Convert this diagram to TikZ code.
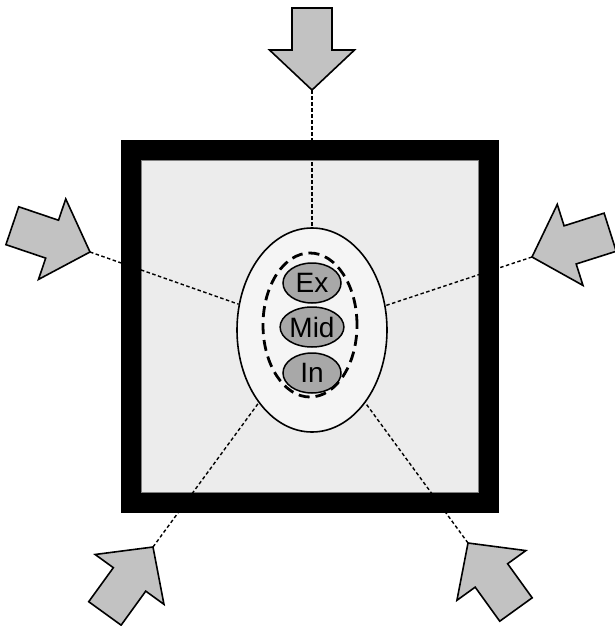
\documentclass[tikz,border=0pt]{standalone}
\usepackage{fontspec}
\setmainfont{Liberation Sans}
\usetikzlibrary{shapes.geometric}
\definecolor{arrowgray}{HTML}{C2C2C2}
\definecolor{roomgray}{HTML}{ECECEC}
\definecolor{layergray}{HTML}{A8A8A8}
\tikzset{
  frame/.style={draw=black, line width=20pt, fill=roomgray},
  outerell/.style={ellipse, draw=black, line width=1.6pt, fill=white!96!black, minimum width=150pt, minimum height=204pt, inner sep=0pt},
  dashell/.style={ellipse, draw=black, line width=2.8pt, dash pattern=on 11pt off 6pt, minimum width=94pt, minimum height=144pt, inner sep=0pt},
  layer/.style={ellipse, draw=black, line width=1.5pt, fill=layergray, minimum width=58pt, minimum height=40pt, inner sep=0pt, font=\fontsize{28}{28}\selectfont},
  conn/.style={draw=black, line width=1.4pt, dash pattern=on 3.5pt off 2.5pt},
  arrowshape/.style={draw=black, line width=1.6pt, fill=arrowgray, line join=miter},
  blockarrow/.pic={\path[arrowshape] (0,0) -- (-40,42.5) -- (-40,20) -- (-82,20) -- (-82,-20) -- (-40,-20) -- (-40,-42.5) -- cycle;}
}
\begin{document}
\begin{tikzpicture}[x=1pt,y=-1pt]
\useasboundingbox (0,0) rectangle (614,626);
% room
\path[frame] (131,150) rectangle (489,503);
\draw[gray, line width=0.8pt] (141.5,160.5) rectangle (478.5,492.5);
% arrow tips
\coordinate (tTop) at (312,90);
\coordinate (tLeft) at (90,252);
\coordinate (tRight) at (532,257);
\coordinate (tBL) at (153,547);
\coordinate (tBR) at (468,543);
% central ellipse
\node[outerell] (outer) at (312,330) {};
% connectors
\draw[conn] (tTop) -- (outer);
\draw[conn] (tLeft) -- (outer);
\draw[conn] (tRight) -- (outer);
\draw[conn] (tBL) -- (outer);
\draw[conn] (tBR) -- (outer);
% arrows
\pic[rotate=-90] at (tTop) {blockarrow};
\pic[rotate=-18.7] at (tLeft) {blockarrow};
\pic[rotate=-162.4] at (tRight) {blockarrow};
\pic[rotate=54.1] at (tBL) {blockarrow};
\pic[rotate=125.8] at (tBR) {blockarrow};
% layers
\node[layer] (ex) at (312,283) {Ex};
\node[layer] (mid) at (312,327) {Mid};
\node[layer] (in) at (312,373) {In};
\node[dashell] (skin) at (310,325) {};
\end{tikzpicture}
\end{document}
